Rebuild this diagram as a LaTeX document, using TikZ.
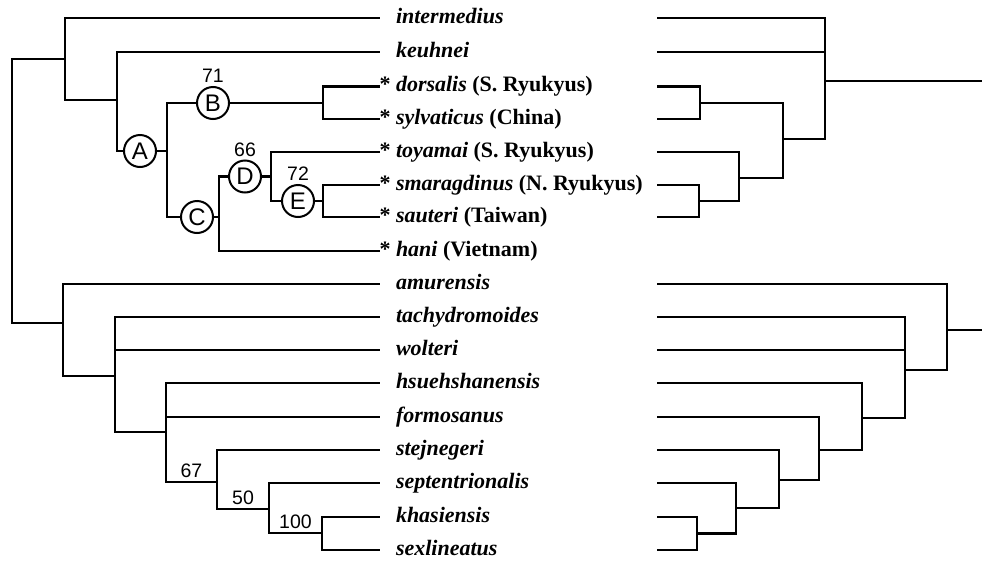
\documentclass[tikz,border=0pt]{standalone}
\usepackage{fontspec}
\setmainfont{Liberation Serif}
\setsansfont{Liberation Sans}
\usetikzlibrary{positioning}

\begin{document}
\begin{tikzpicture}[x=1pt, y=-1pt,
  node distance=3pt,
  leaf/.style={anchor=west, inner xsep=16pt, inner ysep=0pt, outer sep=0pt,
               text height=15pt, text depth=5pt,
               font=\fontsize{22}{26}\selectfont\bfseries},
  clade/.style={circle, draw, line width=2pt, fill=white,
                minimum size=32pt, inner sep=0pt, outer sep=0pt,
                font=\sffamily\fontsize{24}{26}\selectfont},
  boot/.style={inner sep=1pt, font=\sffamily\fontsize{19.5}{22}\selectfont},
  branch/.style={line width=2.2pt},
]

\useasboundingbox (0,0) rectangle (982,560);

% species
\node[leaf] (inter) at (380,18)  {\textit{intermedius}};
\node[leaf] (keuh)  at (380,52)  {\textit{keuhnei}};
\node[leaf] (dors)  at (380,86.5) {\llap{*\ }\textit{dorsalis} (S. Ryukyus)};
\node[leaf] (sylv)  at (380,119) {\llap{*\ }\textit{sylvaticus} (China)};
\node[leaf] (toya)  at (380,152) {\llap{*\ }\textit{toyamai} (S. Ryukyus)};
\node[leaf] (smar)  at (380,185) {\llap{*\ }\textit{smaragdinus} (N. Ryukyus)};
\node[leaf] (saut)  at (380,217) {\llap{*\ }\textit{sauteri} (Taiwan)};
\node[leaf] (hani)  at (380,251) {\llap{*\ }\textit{hani} (Vietnam)};
\node[leaf] (amur)  at (380,284) {\textit{amurensis}};
\node[leaf] (tach)  at (380,317) {\textit{tachydromoides}};
\node[leaf] (wolt)  at (380,350) {\textit{wolteri}};
\node[leaf] (hsue)  at (380,383) {\textit{hsuehshanensis}};
\node[leaf] (form)  at (380,417) {\textit{formosanus}};
\node[leaf] (stej)  at (380,450) {\textit{stejnegeri}};
\node[leaf] (sept)  at (380,483) {\textit{septentrionalis}};
\node[leaf] (khas)  at (380,517) {\textit{khasiensis}};
\node[leaf] (sexl)  at (380,550) {\textit{sexlineatus}};

% left tree
\coordinate (root) at (12,191);
\coordinate (t1) at (65,59);
\coordinate (t2) at (117,100);
\node[clade] (A) at (140,151) {A};
\coordinate (a1) at (167,151);
\node[clade] (B) at (213,103) {B};
\coordinate (b1) at (323,103);
\node[clade] (C) at (197,217) {C};
\coordinate (c1) at (219,217);
\node[clade] (D) at (245,176.5) {D};
\coordinate (d1) at (271,176.5);
\node[clade] (E) at (298,201) {E};
\coordinate (e1) at (323,201);
\node[boot, above=of B] (bB) {71};
\node[boot, above=of D] (bD) {66};
\node[boot, above=of E] (bE) {72};

\coordinate (u1) at (63,323);
\coordinate (u2) at (115,376);
\coordinate (u3) at (166,432);
\coordinate (u4) at (217,482);
\coordinate (u5) at (269,509);
\coordinate (u6) at (322,533);

\draw[branch] (root) |- (t1);
\draw[branch] (root) |- (u1);
\draw[branch] (t1) |- (inter.west);
\draw[branch] (t1) |- (t2);
\draw[branch] (t2) |- (keuh.west);
\draw[branch] (t2) |- (A.west);
\draw[branch] (A.east) -- (a1);
\draw[branch] (a1) |- (B.west);
\draw[branch] (a1) |- (C.west);
\draw[branch] (B.east) -- (b1);
\draw[branch] (b1) |- (dors.west);
\draw[branch] (b1) |- (sylv.west);
\draw[branch] (C.east) -- (c1);
\draw[branch] (c1) |- (D.west);
\draw[branch] (c1) |- (hani.west);
\draw[branch] (D.east) -- (d1);
\draw[branch] (d1) |- (toya.west);
\draw[branch] (d1) |- (E.west);
\draw[branch] (E.east) -- (e1);
\draw[branch] (e1) |- (smar.west);
\draw[branch] (e1) |- (saut.west);

\draw[branch] (u1) |- (amur.west);
\draw[branch] (u1) |- (u2);
\draw[branch] (u2) |- (tach.west);
\draw[branch] (u2) |- (wolt.west);
\draw[branch] (u2) |- (u3);
\draw[branch] (u3) |- (hsue.west);
\draw[branch] (u3) |- (form.west);
\draw[branch] (u3) |- (u4) node[boot, pos=0.75, above=2pt] (b67) {67};
\draw[branch] (u4) |- (stej.west);
\draw[branch] (u4) |- (u5) node[boot, pos=0.75, above=2pt] (b50) {50};
\draw[branch] (u5) |- (sept.west);
\draw[branch] (u5) |- (u6) node[boot, pos=0.75, above=2pt] (b100) {100};
\draw[branch] (u6) |- (khas.west);
\draw[branch] (u6) |- (sexl.west);

% right tree
\coordinate (inter-r) at (657,18);
\coordinate (keuh-r)  at (657,52);
\coordinate (dors-r)  at (657,86.5);
\coordinate (sylv-r)  at (657,119);
\coordinate (toya-r)  at (657,152);
\coordinate (smar-r)  at (657,185);
\coordinate (saut-r)  at (657,217);
\coordinate (amur-r)  at (657,284);
\coordinate (tach-r)  at (657,317);
\coordinate (wolt-r)  at (657,350);
\coordinate (hsue-r)  at (657,383);
\coordinate (form-r)  at (657,417);
\coordinate (stej-r)  at (657,450);
\coordinate (sept-r)  at (657,483);
\coordinate (khas-r)  at (657,517);
\coordinate (sexl-r)  at (657,550);

\coordinate (p1) at (700,103);
\coordinate (p2) at (699,201);
\coordinate (p3) at (739,178);
\coordinate (p4) at (783,139);
\coordinate (p5) at (825,81);
\coordinate (top-out) at (982,81);

\coordinate (q1) at (697,533.5);
\coordinate (q2) at (736,508);
\coordinate (q3) at (779,480);
\coordinate (q4) at (819,450);
\coordinate (q5) at (862,418);
\coordinate (q6) at (905,370);
\coordinate (q7) at (947,330);
\coordinate (bot-out) at (982,330);

\draw[branch] (p1) |- (dors-r);
\draw[branch] (p1) |- (sylv-r);
\draw[branch] (p2) |- (smar-r);
\draw[branch] (p2) |- (saut-r);
\draw[branch] (p3) |- (toya-r);
\draw[branch] (p3) |- (p2);
\draw[branch] (p4) |- (p1);
\draw[branch] (p4) |- (p3);
\draw[branch] (p5) |- (inter-r);
\draw[branch] (p5) |- (keuh-r);
\draw[branch] (p5) |- (p4);
\draw[branch] (p5) -- (top-out);

\draw[branch] (q1) |- (khas-r);
\draw[branch] (q1) |- (sexl-r);
\draw[branch] (q2) |- (sept-r);
\draw[branch] (q2) |- (q1);
\draw[branch] (q3) |- (stej-r);
\draw[branch] (q3) |- (q2);
\draw[branch] (q4) |- (form-r);
\draw[branch] (q4) |- (q3);
\draw[branch] (q5) |- (hsue-r);
\draw[branch] (q5) |- (q4);
\draw[branch] (q6) |- (tach-r);
\draw[branch] (q6) |- (wolt-r);
\draw[branch] (q6) |- (q5);
\draw[branch] (q7) |- (amur-r);
\draw[branch] (q7) |- (q6);
\draw[branch] (q7) -- (bot-out);

\end{tikzpicture}
\end{document}
